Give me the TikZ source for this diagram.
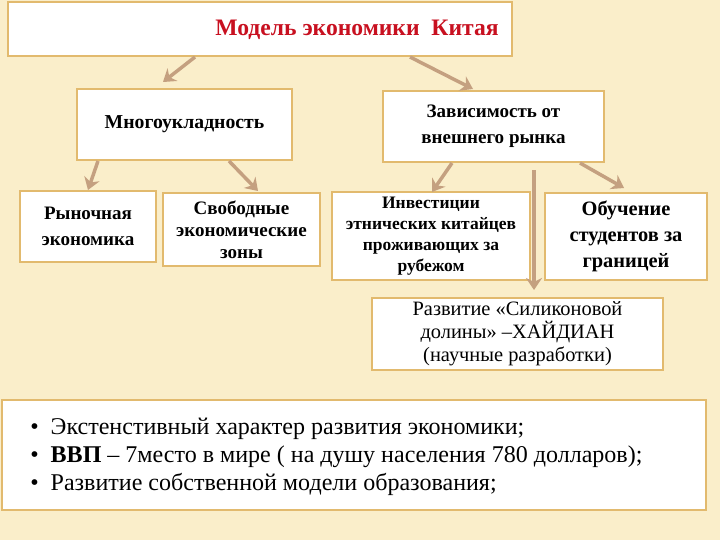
\documentclass[tikz,border=0pt]{standalone}
\usepackage{fontspec}
\setmainfont{Liberation Serif}
\usetikzlibrary{arrows.meta,fit}
\definecolor{bg}{RGB}{250,238,202}
\definecolor{bord}{RGB}{226,186,110}
\definecolor{arr}{RGB}{196,160,128}
\definecolor{ttl}{RGB}{200,16,32}
\tikzset{
 box/.style={draw=bord,line width=1.45pt,fill=white,inner sep=0pt},
 txt/.style={align=center,inner sep=0pt},
 con/.style={draw=arr,line width=2.5pt,-{Stealth[length=8.6pt,width=11.5pt]}},
}
\begin{document}
\begin{tikzpicture}[x=0.72pt,y=-0.72pt]
\fill[bg] (0,0) rectangle (720,540);
\useasboundingbox (0,0) rectangle (720,540);
\node[box,fit={(8,2)(512,56)}] (t) {};
\node[txt,text=ttl,font=\bfseries\fontsize{17}{20}\selectfont] (tt) at (357,30) {Модель экономики\ \ Китая};
\node[box,fit={(77,89)(292,160)}] (m) {};
\node[txt,font=\bfseries\fontsize{14.2}{17}\selectfont] (mt) at (m.center) {Многоукладность};
\node[box,fit={(383,91)(604,162)}] (z) {};
\node[txt,font=\bfseries\fontsize{13.7}{18.7}\selectfont] (zt) at (z.center) {Зависимость от\\внешнего рынка};
\node[box,fit={(20,191)(156,262)}] (r) {};
\node[txt,font=\bfseries\fontsize{13.7}{18.7}\selectfont] (rt) at (r.center) {Рыночная\\экономика};
\node[box,fit={(163,193)(320,266)}] (s) {};
\node[txt,font=\bfseries\fontsize{13.7}{15.8}\selectfont] (st) at (s.center) {Свободные\\экономические\\зоны};
\node[box,fit={(332,192)(530,280)}] (i) {};
\node[txt,font=\bfseries\fontsize{12.6}{15.1}\selectfont] (it) at (i.center) {Инвестиции\\этнических китайцев\\проживающих за\\рубежом};
\node[box,fit={(545,193)(707,280)}] (o) {};
\node[txt,font=\bfseries\fontsize{14.7}{18.7}\selectfont] (ot) at (o.center) {Обучение\\студентов за\\границей};
\node[box,fit={(372,298)(663,370)}] (d) {};
\node[txt,font=\fontsize{14.7}{16.5}\selectfont] (dt) at (d.center) {Развитие «Силиконовой\\долины» –ХАЙДИАН\\(научные разработки)};
\node[box,fit={(2,400)(706,510)}] (b) {};
\node[anchor=west,align=left,inner sep=0pt,font=\fontsize{17.3}{20.2}\selectfont] (bt) at (30,457) {\textbullet\ \ Экстенстивный характер развития экономики;\\\textbullet\ \ \textbf{ВВП} – 7место в мире ( на душу населения 780 долларов);\\\textbullet\ \ Развитие собственной модели образования;};
\coordinate (a1) at (195,57); \coordinate (a1e) at (163,82);
\coordinate (a2) at (410,57); \coordinate (a2e) at (473,89);
\coordinate (a3) at (98,161); \coordinate (a3e) at (88,190);
\coordinate (a4) at (229,161); \coordinate (a4e) at (258,191);
\coordinate (a5) at (452,163); \coordinate (a5e) at (432,192);
\coordinate (a6) at (534,170); \coordinate (a6e) at (534,290);
\coordinate (a7) at (580,163); \coordinate (a7e) at (624,188);
\draw[con] (a1)--(a1e); \draw[con] (a2)--(a2e); \draw[con] (a3)--(a3e);
\draw[con] (a4)--(a4e); \draw[con] (a5)--(a5e); \draw[con] (a6)--(a6e);
\draw[con] (a7)--(a7e);
\end{tikzpicture}
\end{document}
